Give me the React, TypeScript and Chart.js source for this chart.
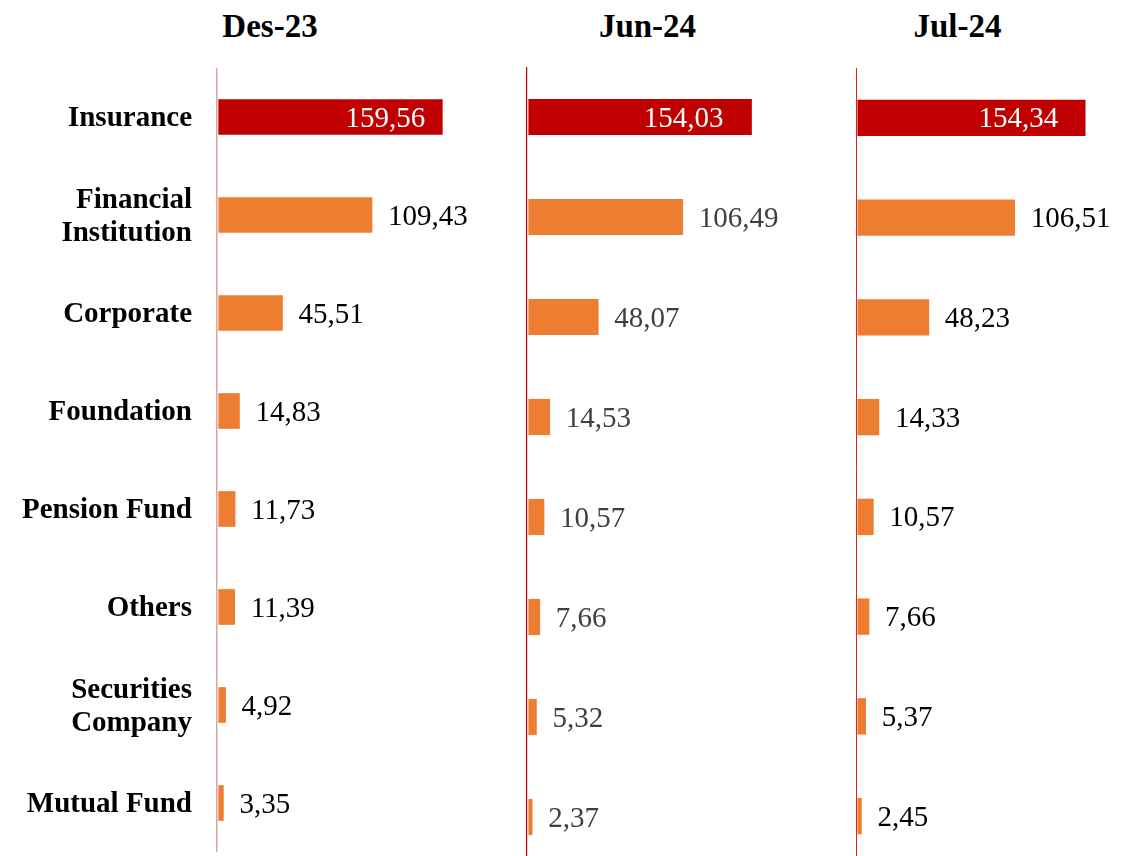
import React, { useEffect, useRef } from 'react';
import { Chart, registerables } from 'chart.js';

Chart.register(...registerables);

// ---------- data ----------
const categories: (string | string[])[] = [
  'Insurance',
  ['Financial', 'Institution'],
  'Corporate',
  'Foundation',
  'Pension Fund',
  'Others',
  ['Securities', 'Company'],
  'Mutual Fund',
];
const periods = ['Des-23', 'Jun-24', 'Jul-24'];
const des23 = [159.56, 109.43, 45.51, 14.83, 11.73, 11.39, 4.92, 3.35];
const jun24 = [154.03, 106.49, 48.07, 14.53, 10.57, 7.66, 5.32, 2.37];
const jul24 = [154.34, 106.51, 48.23, 14.33, 10.57, 7.66, 5.37, 2.45];
const highlightIndex = 0; // Insurance

const FONT = '"Liberation Serif", "Times New Roman", serif';
const RED = '#C00000';
const ORANGE = '#ED7D31';

const fmt = (v: number) => v.toFixed(2).replace('.', ',');

const valueLabels = {
  id: 'valueLabels',
  afterDatasetsDraw(chart: any, _args: any, opts: any) {
    const ctx = chart.ctx;
    const meta = chart.getDatasetMeta(0);
    const data = chart.data.datasets[0].data as number[];
    ctx.save();
    ctx.font = `29px ${FONT}`;
    ctx.textBaseline = 'middle';
    meta.data.forEach((bar: any, i: number) => {
      const txt = fmt(data[i]);
      if (i === highlightIndex) {
        ctx.fillStyle = '#ffffff';
        ctx.textAlign = 'right';
        ctx.fillText(txt, bar.x - opts.insidePad, bar.y + 2);
      } else {
        ctx.fillStyle = opts.color;
        ctx.textAlign = 'left';
        ctx.fillText(txt, bar.x + opts.gap, bar.y + 2);
      }
    });
    ctx.restore();
  },
};

type PanelProps = {
  values: number[];
  left: number;
  top: number;
  width: number;
  height: number;
  axisWidth: number;
  showLabels: boolean;
  max: number;
  barThickness: number;
  axisColor: string;
  axisLineWidth: number;
  labelColor: string;
  insidePad: number;
};

function Panel(p: PanelProps) {
  const ref = useRef<HTMLCanvasElement | null>(null);
  useEffect(() => {
    if (!ref.current) return;
    const chart = new Chart(ref.current, {
      type: 'bar',
      data: {
        labels: categories as any,
        datasets: [
          {
            data: p.values,
            backgroundColor: p.values.map((_, i) => (i === highlightIndex ? RED : ORANGE)),
            borderWidth: 0,
            barThickness: p.barThickness,
          },
        ],
      },
      options: {
        indexAxis: 'y',
        animation: false,
        responsive: false,
        maintainAspectRatio: false,
        devicePixelRatio: 1,
        layout: { padding: 0 },
        plugins: {
          legend: { display: false },
          tooltip: { enabled: false },
          title: { display: false },
          valueLabels: { color: p.labelColor, gap: 16, insidePad: p.insidePad },
        } as any,
        scales: {
          x: {
            display: false,
            min: -1.2,
            max: p.max,
          },
          y: {
            type: 'category',
            offset: true,
            grid: { display: false, drawTicks: false },
            border: { display: true, color: p.axisColor, width: p.axisLineWidth },
            ticks: {
              display: p.showLabels,
              autoSkip: false,
              color: '#000000',
              padding: 25,
              labelOffset: 2,
              font: { family: FONT, size: 29, weight: 'bold', lineHeight: 1.13 },
            },
            afterFit: (s: any) => {
              s.width = p.axisWidth;
              s.paddingTop = 0;
              s.paddingBottom = 0;
            },
          },
        },
      },
      plugins: [valueLabels as any],
    });
    return () => chart.destroy();
  }, []);
  return (
    <canvas
      ref={ref}
      width={p.width}
      height={p.height}
      style={{ position: 'absolute', left: p.left, top: p.top, width: p.width, height: p.height }}
    />
  );
}

const titleStyle = (center: number): React.CSSProperties => ({
  position: 'absolute',
  left: center - 100,
  width: 200,
  top: 10,
  textAlign: 'center',
  fontFamily: FONT,
  fontWeight: 'bold',
  fontSize: 33,
  lineHeight: 1,
  color: '#000',
});

export default function App() {
  return (
    <div
      style={{
        position: 'fixed',
        left: 0,
        top: 0,
        width: 1122,
        height: 856,
        overflow: 'hidden',
        background: '#ffffff',
      }}
    >
      <div style={titleStyle(270)}>{periods[0]}</div>
      <div style={titleStyle(647.5)}>{periods[1]}</div>
      <div style={titleStyle(957.5)}>{periods[2]}</div>
      <Panel
        values={des23}
        left={0}
        top={68}
        width={499}
        height={784}
        axisWidth={217}
        showLabels={true}
        max={200}
        barThickness={35}
        axisColor="#dca3a3"
        axisLineWidth={1.5}
        labelColor="#000000"
        insidePad={17}
      />
      <Panel
        values={jun24}
        left={517}
        top={67}
        width={301}
        height={800}
        axisWidth={10}
        showLabels={false}
        max={200}
        barThickness={35.5}
        axisColor="#C00000"
        axisLineWidth={1.2}
        labelColor="#404040"
        insidePad={28}
      />
      <Panel
        values={jul24}
        left={846}
        top={68}
        width={277}
        height={798}
        axisWidth={10}
        showLabels={false}
        max={180}
        barThickness={35.7}
        axisColor="#E02020"
        axisLineWidth={1}
        labelColor="#000000"
        insidePad={27}
      />
    </div>
  );
}
